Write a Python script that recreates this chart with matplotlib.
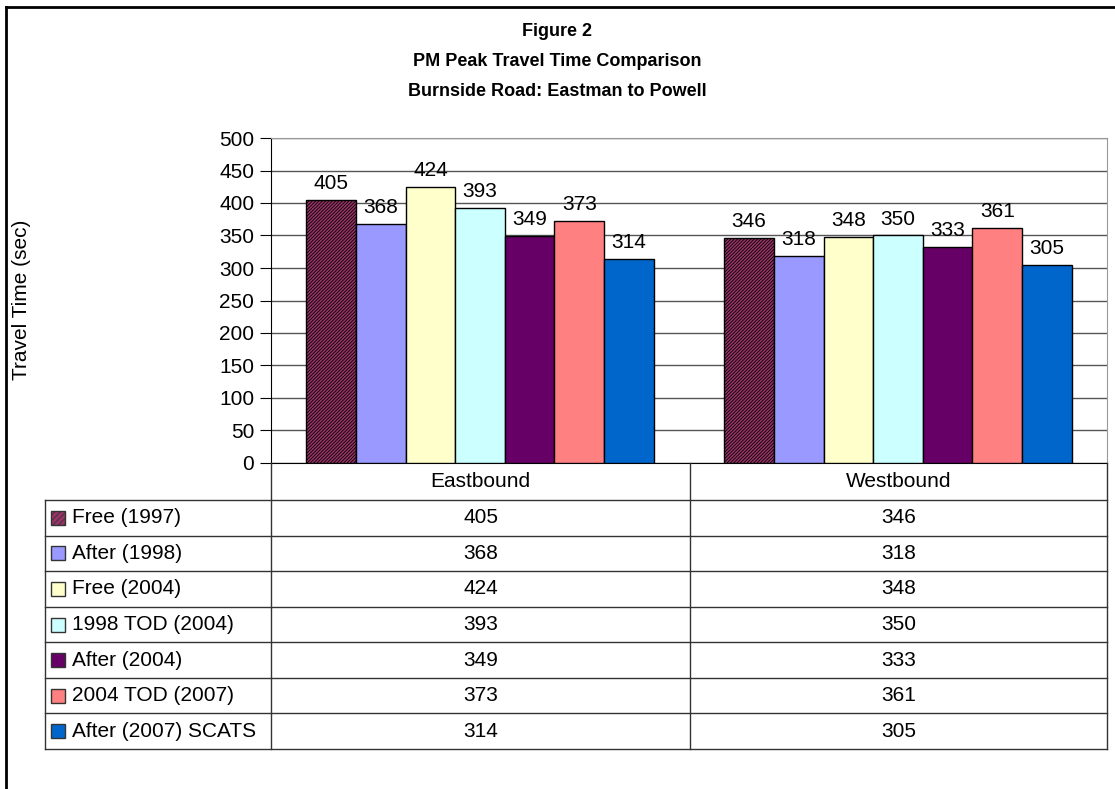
import numpy as np
import matplotlib
matplotlib.use('Agg')
import matplotlib.pyplot as plt
from matplotlib.patches import Rectangle
from matplotlib.lines import Line2D

plt.rcParams['font.family'] = ['Liberation Sans', 'DejaVu Sans']
plt.rcParams['hatch.linewidth'] = 0.6

# data
groups = ['Eastbound', 'Westbound']
series_names = ['Free (1997)', 'After (1998)', 'Free (2004)', '1998 TOD (2004)',
                'After (2004)', '2004 TOD (2007)', 'After (2007) SCATS']
free_1997 = [405, 346]
after_1998 = [368, 318]
free_2004 = [424, 348]
tod1998_2004 = [393, 350]
after_2004 = [349, 333]
tod2004_2007 = [373, 361]
after_2007_scats = [314, 305]
series_vals = [free_1997, after_1998, free_2004, tod1998_2004,
               after_2004, tod2004_2007, after_2007_scats]
colors = ['#993366', '#9999FF', '#FFFFCC', '#CCFFFF', '#660066', '#FF8080', '#0066CC']
hatches = ['//////////', None, None, None, None, None, None]

W, H = 1115, 789


def fx(px):
    return px / W


def fy(py):
    return 1 - py / H


fig = plt.figure(figsize=(W / 100, H / 100), dpi=100)

# outer border (left + top only)
fig.add_artist(Line2D([fx(6), fx(6)], [0, fy(7)], color='black', lw=2))
fig.add_artist(Line2D([fx(6), 1], [fy(7), fy(7)], color='black', lw=2))

# titles
fs_title = 13
fig.text(fx(557), fy(31), 'Figure 2', ha='center', va='center', fontsize=fs_title, fontweight='bold')
fig.text(fx(557), fy(62), 'PM Peak Travel Time Comparison', ha='center', va='center',
         fontsize=fs_title, fontweight='bold')
fig.text(fx(557), fy(92), 'Burnside Road: Eastman to Powell', ha='center', va='center',
         fontsize=fs_title, fontweight='bold')

ax = fig.add_axes([fx(271), fy(463), fx(1107) - fx(271), fy(138) - fy(463)])
x = np.arange(len(groups))
bw = 0.1187
for k, vals in enumerate(series_vals):
    bars = ax.bar(x + (k - 3) * bw, vals, bw, color=colors[k], edgecolor='black',
                  linewidth=1, hatch=hatches[k], zorder=3)
    ax.bar_label(bars, padding=5, fontsize=15)

ax.set_xlim(-0.5, 1.5)
ax.set_ylim(0, 500)
ax.set_yticks(range(0, 501, 50))
ax.set_xticks([])
ax.yaxis.grid(True, color='#555555', lw=1)
ax.set_axisbelow(True)
for s in ['top', 'right']:
    ax.spines[s].set_color('#999999')
ax.spines['left'].set_color('black')
ax.spines['bottom'].set_color('black')
ax.tick_params(axis='y', direction='out', length=8, labelsize=15, pad=4)

fig.text(fx(22), fy(300), 'Travel Time (sec)', rotation=90, ha='center', va='center', fontsize=15)

# data table under the chart
tax = fig.add_axes([fx(45), fy(749), fx(1107) - fx(45), fy(463) - fy(749)])
tax.set_xlim(45, 1107)
tax.set_ylim(749, 463)
tax.axis('off')
lc = '#333333'
col_edges = [271, 690, 1107]
head_bottom = 500
row_h = (749 - head_bottom) / len(series_names)
for xe in col_edges:
    tax.plot([xe, xe], [463, 749], color=lc, lw=1, clip_on=False)
tax.plot([45, 45], [head_bottom, 749], color=lc, lw=1, clip_on=False)
for i in range(len(series_names) + 1):
    yy = head_bottom + i * row_h
    tax.plot([45, 1107], [yy, yy], color=lc, lw=1, clip_on=False)

col_centers = [(col_edges[j] + col_edges[j + 1]) / 2 for j in range(len(groups))]
for j, g in enumerate(groups):
    tax.text(col_centers[j], (463 + head_bottom) / 2, g, ha='center', va='center', fontsize=15)

for i, name in enumerate(series_names):
    yc = head_bottom + (i + 0.5) * row_h
    tax.add_patch(Rectangle((51, yc - 7), 14, 14, facecolor=colors[i], edgecolor='#333333',
                            lw=1, hatch=None if hatches[i] is None else '//////', clip_on=False))
    tax.text(72, yc, name, ha='left', va='center', fontsize=15)
    for j in range(len(groups)):
        tax.text(col_centers[j], yc, str(series_vals[i][j]), ha='center', va='center', fontsize=15)

fig.savefig('out.png', dpi=100)
